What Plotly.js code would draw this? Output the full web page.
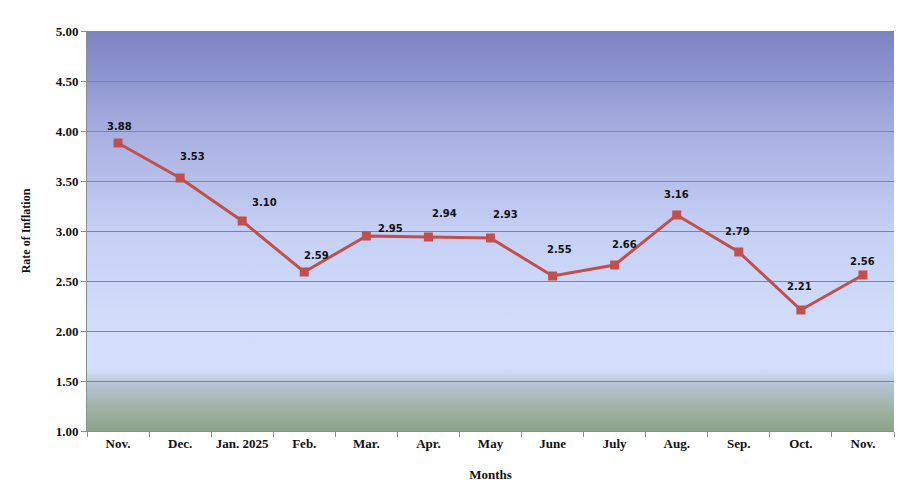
<!DOCTYPE html>
<html>
<head>
<meta charset="utf-8">
<script src="https://cdn.plot.ly/plotly-3.0.1.min.js"></script>
<style>html,body{margin:0;padding:0;background:#fff;}#chart{width:921px;height:502px;}</style>
</head>
<body>
<div id="chart"></div>
<script>
// Data
const months = ["Nov.", "Dec.", "Jan. 2025", "Feb.", "Mar.", "Apr.", "May", "June", "July", "Aug.", "Sep.", "Oct.", "Nov."];
const inflation = [3.88, 3.53, 3.10, 2.59, 2.95, 2.94, 2.93, 2.55, 2.66, 3.16, 2.79, 2.21, 2.56];
const yTickVals = [1.0, 1.5, 2.0, 2.5, 3.0, 3.5, 4.0, 4.5, 5.0];
// label offsets (px) as in the original layout
const labelDx = [1, 12, 22, 12, 24, 16, 15, 7, 10, 0, -1, -1, 0];
const labelDy = [17, 22, 19, 17, 8, 24, 24, 27, 21, 21, 21, 24, 14];

const idx = months.map((_, i) => i);

const svgGrad = '<svg xmlns="http://www.w3.org/2000/svg" width="10" height="400" preserveAspectRatio="none">' +
  '<defs><linearGradient id="g" x1="0" y1="0" x2="0" y2="1">' +
  '<stop offset="0" stop-color="#7d83c2"/>' +
  '<stop offset="0.125" stop-color="#8f97d0"/>' +
  '<stop offset="0.25" stop-color="#a7afe1"/>' +
  '<stop offset="0.5" stop-color="#c6d0f5"/>' +
  '<stop offset="0.75" stop-color="#d3ddfb"/>' +
  '<stop offset="0.845" stop-color="#d5dffc"/>' +
  '<stop offset="0.885" stop-color="#b6c2d3"/>' +
  '<stop offset="0.94" stop-color="#a2b4a8"/>' +
  '<stop offset="1" stop-color="#8ca38a"/>' +
  '</linearGradient></defs><rect width="10" height="400" fill="url(#g)"/></svg>';
const bgSrc = 'data:image/svg+xml;base64,' + btoa(svgGrad);

const trace = {
  x: idx,
  y: inflation,
  type: 'scatter',
  mode: 'lines+markers',
  line: {color: '#c0504d', width: 3},
  marker: {symbol: 'square', size: 9, color: '#c0504d'},
  hoverinfo: 'x+y'
};

const annotations = inflation.map((v, i) => ({
  x: i, y: v, xref: 'x', yref: 'y',
  text: v.toFixed(2),
  showarrow: false,
  xshift: labelDx[i],
  yshift: labelDy[i],
  font: {family: 'DejaVu Sans', size: 10, color: '#111', weight: 'bold'}
}));

const layout = {
  width: 921, height: 502,
  margin: {l: 87, r: 27, t: 31, b: 71},
  paper_bgcolor: '#ffffff',
  plot_bgcolor: '#d3ddfb',
  showlegend: false,
  images: [{
    source: bgSrc, xref: 'paper', yref: 'paper', x: 0, y: 1, sizex: 1, sizey: 1,
    sizing: 'stretch', layer: 'below', xanchor: 'left', yanchor: 'top'
  }],
  xaxis: {
    range: [-0.5, months.length - 0.5],
    tickmode: 'array', tickvals: idx, ticktext: months,
    ticks: '',
    showgrid: false, zeroline: false,
    showline: true, linecolor: '#8c8c8c', linewidth: 1,
    tickfont: {family: 'Liberation Serif', size: 13, color: '#111', weight: 'bold'},
    minor: {tickmode: 'linear', tick0: -0.5, dtick: 1, ticks: 'outside', ticklen: 5, tickcolor: '#8c8c8c', showgrid: false},
    title: {text: 'Months', standoff: 20, font: {family: 'Liberation Serif', size: 13, color: '#111', weight: 'bold'}},
    fixedrange: true
  },
  yaxis: {
    range: [1, 5],
    tickmode: 'array', tickvals: yTickVals, ticktext: yTickVals.map(v => v.toFixed(2)),
    ticks: 'outside', ticklen: 5, tickcolor: '#8c8c8c',
    showgrid: true, gridcolor: '#7f8393', gridwidth: 1,
    zeroline: false,
    showline: true, linecolor: '#8c8c8c', linewidth: 1,
    tickfont: {family: 'Liberation Serif', size: 13, color: '#111', weight: 'bold'},
    title: {text: 'Rate of Inflation', standoff: 22, font: {family: 'Liberation Serif', size: 12, color: '#111', weight: 'bold'}},
    fixedrange: true
  },
  annotations: annotations
};

Plotly.newPlot('chart', [trace], layout, {displayModeBar: false, staticPlot: true});
</script>
</body>
</html>
